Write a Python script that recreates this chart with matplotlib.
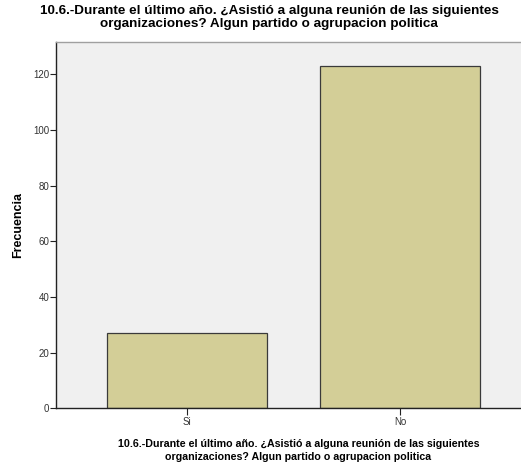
import matplotlib
matplotlib.use('Agg')
import matplotlib.pyplot as plt

# frequencies
categories = ['Si', 'No']
counts = [27, 123]
yticks = [0, 20, 40, 60, 80, 100, 120]

title = ('10.6.-Durante el último año. ¿Asistió a alguna reunión de las siguientes\n'
         'organizaciones? Algun partido o agrupacion politica')

plt.rcParams['font.family'] = ['Liberation Sans', 'DejaVu Sans']

fig = plt.figure(figsize=(5.21, 4.68), dpi=100)
ax = fig.add_axes([0.1075, 0.1276, 0.9117, 0.782])
ax.set_facecolor('#F0F0F0')

x = range(len(categories))
ax.bar(x, counts, width=0.75, color='#D3CE97', edgecolor='#3a3a3a', linewidth=0.9, zorder=2)

ax.set_xlim(-0.6127, 1.6127)
ax.set_ylim(0, 131.5)
ax.set_xticks(list(x))
ax.set_xticklabels(categories, fontsize=7, color='#333333')
ax.set_yticks(yticks)
ax.set_yticklabels([str(t) for t in yticks], fontsize=7, color='#333333')
ax.tick_params(direction='out', length=4.5, width=0.8, color='#222222', pad=0.5)
ax.tick_params(axis='x', length=5, pad=1.5)

for side in ['left', 'bottom']:
    ax.spines[side].set_color('#222222')
    ax.spines[side].set_linewidth(1.0)
ax.spines['top'].set_color('#a0a0a0')
ax.spines['top'].set_linewidth(1.0)
ax.spines['right'].set_visible(False)

ax.set_ylabel('Frecuencia', fontsize=9, fontweight='bold', labelpad=6)
ax.set_xlabel(title, fontsize=7.7, fontweight='bold', linespacing=1.35)
ax.xaxis.set_label_coords(0.5105, -0.084)
fig.text(269 / 521, 1 - 5 / 468, title, ha='center', va='top', fontsize=9.7,
         fontweight='bold', linespacing=1.1)

fig.savefig('out.png', dpi=100)
